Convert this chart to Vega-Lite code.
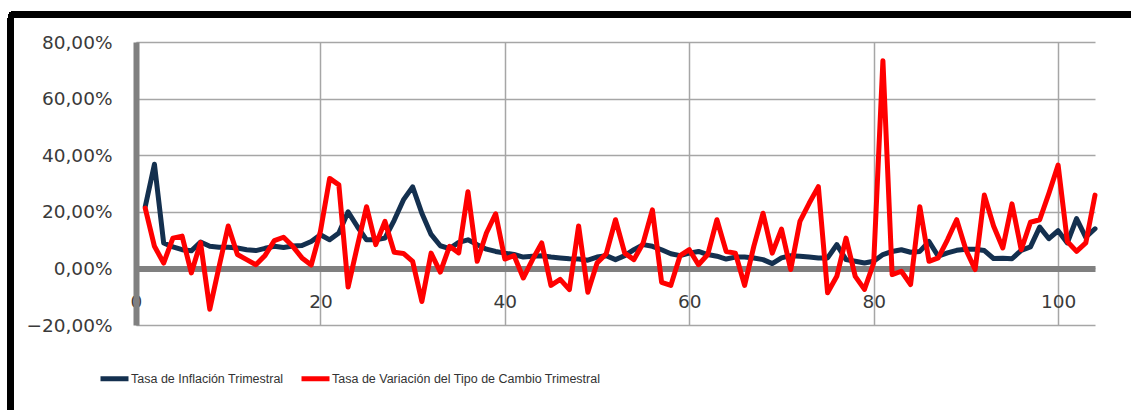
{
  "$schema": "https://vega.github.io/schema/vega-lite/v6.json",
  "autosize": {"type": "none"},
  "width": 959,
  "height": 283,
  "padding": {"left": 136, "top": 42, "right": 36, "bottom": 85},
  "background": "white",
  "config": {
    "view": {"stroke": null},
    "locale": {"number": {"decimal": ",", "thousands": ".", "grouping": [3], "currency": ["", " €"]}},
    "axis": {"labelFont": "DejaVu Sans", "labelFontSize": 18.5, "labelColor": "#3a3a3a", "ticks": false, "tickSize": 0, "gridColor": "#a6a6a6", "gridWidth": 1.5, "title": null}
  },
  "data": {"values": [
    {"k":1,"inf":0.218,"tc":0.213},{"k":2,"inf":0.368,"tc":0.078},{"k":3,"inf":0.090,"tc":0.019},{"k":4,"inf":0.076,"tc":0.107},{"k":5,"inf":0.066,"tc":0.114},
    {"k":6,"inf":0.062,"tc":-0.016},{"k":7,"inf":0.093,"tc":0.091},{"k":8,"inf":0.078,"tc":-0.144},{"k":9,"inf":0.075,"tc":0.005},{"k":10,"inf":0.075,"tc":0.150},
    {"k":11,"inf":0.072,"tc":0.049},{"k":12,"inf":0.066,"tc":0.031},{"k":13,"inf":0.063,"tc":0.013},{"k":14,"inf":0.071,"tc":0.046},{"k":15,"inf":0.078,"tc":0.098},
    {"k":16,"inf":0.074,"tc":0.110},{"k":17,"inf":0.079,"tc":0.078},{"k":18,"inf":0.081,"tc":0.037},{"k":19,"inf":0.095,"tc":0.012},{"k":20,"inf":0.119,"tc":0.131},
    {"k":21,"inf":0.101,"tc":0.318},{"k":22,"inf":0.125,"tc":0.295},{"k":23,"inf":0.200,"tc":-0.066},{"k":24,"inf":0.148,"tc":0.078},{"k":25,"inf":0.101,"tc":0.218},
    {"k":26,"inf":0.101,"tc":0.084},{"k":27,"inf":0.107,"tc":0.166},{"k":28,"inf":0.170,"tc":0.057},{"k":29,"inf":0.242,"tc":0.053},{"k":30,"inf":0.288,"tc":0.025},
    {"k":31,"inf":0.195,"tc":-0.117},{"k":32,"inf":0.120,"tc":0.054},{"k":33,"inf":0.080,"tc":-0.013},{"k":34,"inf":0.070,"tc":0.078},{"k":35,"inf":0.092,"tc":0.055},
    {"k":36,"inf":0.101,"tc":0.271},{"k":37,"inf":0.084,"tc":0.025},{"k":38,"inf":0.068,"tc":0.125},{"k":39,"inf":0.060,"tc":0.193},{"k":40,"inf":0.054,"tc":0.033},
    {"k":41,"inf":0.049,"tc":0.045},{"k":42,"inf":0.040,"tc":-0.034},{"k":43,"inf":0.043,"tc":0.031},{"k":44,"inf":0.045,"tc":0.090},{"k":45,"inf":0.040,"tc":-0.060},
    {"k":46,"inf":0.037,"tc":-0.039},{"k":47,"inf":0.034,"tc":-0.075},{"k":48,"inf":0.033,"tc":0.150},{"k":49,"inf":0.029,"tc":-0.084},{"k":50,"inf":0.040,"tc":0.019},
    {"k":51,"inf":0.045,"tc":0.052},{"k":52,"inf":0.031,"tc":0.172},{"k":53,"inf":0.045,"tc":0.054},{"k":54,"inf":0.066,"tc":0.031},{"k":55,"inf":0.084,"tc":0.090},
    {"k":56,"inf":0.078,"tc":0.207},{"k":57,"inf":0.066,"tc":-0.049},{"k":58,"inf":0.052,"tc":-0.060},{"k":59,"inf":0.045,"tc":0.045},{"k":60,"inf":0.054,"tc":0.066},
    {"k":61,"inf":0.060,"tc":0.013},{"k":62,"inf":0.049,"tc":0.049},{"k":63,"inf":0.043,"tc":0.172},{"k":64,"inf":0.033,"tc":0.060},{"k":65,"inf":0.040,"tc":0.054},
    {"k":66,"inf":0.040,"tc":-0.060},{"k":67,"inf":0.037,"tc":0.078},{"k":68,"inf":0.031,"tc":0.195},{"k":69,"inf":0.017,"tc":0.054},{"k":70,"inf":0.037,"tc":0.139},
    {"k":71,"inf":0.045,"tc":-0.004},{"k":72,"inf":0.043,"tc":0.166},{"k":73,"inf":0.040,"tc":0.230},{"k":74,"inf":0.037,"tc":0.289},{"k":75,"inf":0.037,"tc":-0.086},
    {"k":76,"inf":0.084,"tc":-0.028},{"k":77,"inf":0.031,"tc":0.107},{"k":78,"inf":0.025,"tc":-0.028},{"k":79,"inf":0.019,"tc":-0.074},{"k":80,"inf":0.025,"tc":0.019},
    {"k":81,"inf":0.049,"tc":0.734},{"k":82,"inf":0.060,"tc":-0.022},{"k":83,"inf":0.066,"tc":-0.010},{"k":84,"inf":0.057,"tc":-0.057},{"k":85,"inf":0.060,"tc":0.218},
    {"k":86,"inf":0.095,"tc":0.025},{"k":87,"inf":0.043,"tc":0.037},{"k":88,"inf":0.055,"tc":0.101},{"k":89,"inf":0.064,"tc":0.172},{"k":90,"inf":0.068,"tc":0.066},
    {"k":91,"inf":0.068,"tc":-0.004},{"k":92,"inf":0.063,"tc":0.259},{"k":93,"inf":0.035,"tc":0.150},{"k":94,"inf":0.036,"tc":0.072},{"k":95,"inf":0.034,"tc":0.228},
    {"k":96,"inf":0.064,"tc":0.066},{"k":97,"inf":0.076,"tc":0.163},{"k":98,"inf":0.146,"tc":0.172},{"k":99,"inf":0.105,"tc":0.265},{"k":100,"inf":0.133,"tc":0.365},
    {"k":101,"inf":0.090,"tc":0.095},{"k":102,"inf":0.176,"tc":0.060},{"k":103,"inf":0.110,"tc":0.090},{"k":104,"inf":0.140,"tc":0.259}
  ]},
  "layer": [
    {
      "mark": {"type": "line", "strokeWidth": 5, "strokeJoin": "round", "strokeCap": "round"},
      "encoding": {
        "x": {"field": "k", "type": "quantitative",
          "scale": {"domain": [0, 104], "nice": false, "zero": false},
          "axis": {"values": [0, 20, 40, 60, 80, 100], "offset": -56.6, "domainColor": "#808080", "domainWidth": 6, "labelPadding": 24, "labelFlush": false, "zindex": 0}},
        "y": {"field": "inf", "type": "quantitative",
          "scale": {"domain": [-0.2, 0.8], "nice": false},
          "axis": {"values": [-0.2, 0, 0.2, 0.4, 0.6, 0.8], "format": ".2%", "domainColor": "#808080", "domainWidth": 6, "labelPadding": 24, "zindex": 0}},
        "color": {"datum": "Tasa de Inflación Trimestral", "type": "nominal",
          "scale": {"domain": ["Tasa de Inflación Trimestral", "Tasa de Variación del Tipo de Cambio Trimestral"], "range": ["#14304f", "#ff0000"]},
          "legend": {"title": null, "orient": "none", "legendX": -38, "legendY": 320, "direction": "horizontal", "symbolType": "stroke", "symbolSize": 784, "symbolStrokeWidth": 5, "labelFont": "Liberation Sans, sans-serif", "labelFontSize": 12.5, "labelColor": "#333333", "labelOffset": 0, "labelLimit": 500, "columnPadding": 7}}
      }
    },
    {
      "mark": {"type": "line", "strokeWidth": 5, "strokeJoin": "round", "strokeCap": "round"},
      "encoding": {
        "x": {"field": "k", "type": "quantitative"},
        "y": {"field": "tc", "type": "quantitative"},
        "color": {"datum": "Tasa de Variación del Tipo de Cambio Trimestral", "type": "nominal"}
      }
    },
    {
      "mark": {"type": "rect", "filled": false, "stroke": "black", "strokeWidth": 6, "cornerRadius": 3, "clip": false},
      "encoding": {
        "x": {"datum": -13.56, "type": "quantitative"},
        "x2": {"datum": 114},
        "y": {"datum": 0.8977, "type": "quantitative"},
        "y2": {"datum": -0.75}
      }
    }
  ]
}
